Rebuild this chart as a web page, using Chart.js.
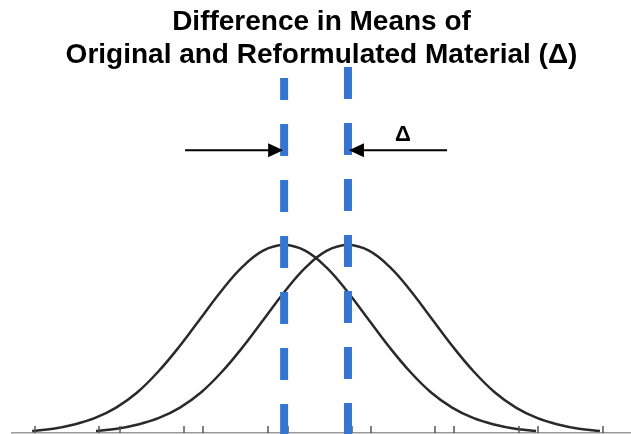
<!DOCTYPE html>
<html>
<head>
<meta charset="utf-8">
<title>Difference in Means</title>
<script src="https://cdn.jsdelivr.net/npm/chart.js@4.4.1/dist/chart.umd.min.js"></script>
<style>
  html, body { margin: 0; padding: 0; background: #fff; }
  #wrap { position: relative; width: 631px; height: 434px; }
</style>
</head>
<body>
<div id="wrap"><canvas id="meansChart"></canvas></div>
<script>
// x positions (in standard deviations) for the original material curve
const originalX = [-3, -2.75, -2.5, -2.25, -2, -1.75, -1.5, -1.25, -1, -0.75, -0.5, -0.25, 0,
  0.25, 0.5, 0.75, 1, 1.25, 1.5, 1.75, 2, 2.25, 2.5, 2.75, 3];
// x positions for the reformulated material curve (shifted by delta)
const reformX = [-2.24, -1.99, -1.74, -1.49, -1.24, -0.99, -0.74, -0.49, -0.24, 0.01, 0.26, 0.51, 0.76,
  1.01, 1.26, 1.51, 1.76, 2.01, 2.26, 2.51, 2.76, 3.01, 3.26, 3.51, 3.76];
// curve height at each point, same shape for both materials
const density = [0.004, 0.009, 0.018, 0.032, 0.054, 0.086, 0.130, 0.183, 0.242, 0.301, 0.352, 0.387, 0.399,
  0.387, 0.352, 0.301, 0.242, 0.183, 0.130, 0.086, 0.054, 0.032, 0.018, 0.009, 0.004];
// means of the two materials
const means = [0, 0.76];
// tick marks along the baseline
const originalTicks = [-2.97, -1.95, -0.97, 0.05, 1.03, 2.02, 3.02];
const reformTicks = [-2.2, -1.19, -0.19, 0.81, 1.8, 2.8, 3.8];
const titleLines = ["Difference in Means of", "Original and Reformulated Material (Δ)"];
const deltaLabel = "Δ";

const FONT = "'Liberation Sans', Arial, Helvetica, sans-serif";

function toPoints(xs, ys) {
  return xs.map((v, i) => ({ x: v, y: ys[i] }));
}

function arrow(ctx, fromX, toX, yPx) {
  const dir = Math.sign(toX - fromX);
  ctx.beginPath();
  ctx.moveTo(fromX, yPx);
  ctx.lineTo(toX - dir * 12, yPx);
  ctx.stroke();
  ctx.beginPath();
  ctx.moveTo(toX, yPx);
  ctx.lineTo(toX - dir * 15, yPx - 7);
  ctx.lineTo(toX - dir * 15, yPx + 7);
  ctx.closePath();
  ctx.fill();
}

// ticks, mean lines, arrows and the delta label
const markupPlugin = {
  id: "markup",
  afterDatasetsDraw(chart) {
    const { ctx, chartArea } = chart;
    const x = chart.scales.x;
    const y = chart.scales.y;
    ctx.save();

    ctx.strokeStyle = "#555";
    ctx.lineWidth = 1.5;
    originalTicks.concat(reformTicks).forEach((v) => {
      const px = Math.round(x.getPixelForValue(v));
      ctx.beginPath();
      ctx.moveTo(px, chartArea.bottom);
      ctx.lineTo(px, chartArea.bottom - 7);
      ctx.stroke();
    });

    // dashed lines at the means
    const lineTops = [0.7533, 0.7766];
    const dashPhase = [10, 0];
    ctx.strokeStyle = "#3574d0";
    ctx.lineWidth = 8;
    ctx.setLineDash([32, 24]);
    means.forEach((m, i) => {
      const px = x.getPixelForValue(m);
      ctx.lineDashOffset = dashPhase[i];
      ctx.beginPath();
      ctx.moveTo(px, y.getPixelForValue(lineTops[i]));
      ctx.lineTo(px, chartArea.bottom + 1);
      ctx.stroke();
    });
    ctx.setLineDash([]);

    // arrows pointing at each mean
    const arrowY = y.getPixelForValue(0.6);
    ctx.strokeStyle = "#000";
    ctx.fillStyle = "#000";
    ctx.lineWidth = 2;
    arrow(ctx, x.getPixelForValue(-1.18), x.getPixelForValue(means[0]) - 1, arrowY);
    arrow(ctx, x.getPixelForValue(1.94), x.getPixelForValue(means[1]) + 1, arrowY);

    ctx.font = "bold 22px " + FONT;
    ctx.textAlign = "center";
    ctx.textBaseline = "middle";
    ctx.fillText(deltaLabel, x.getPixelForValue(1.415), y.getPixelForValue(0.633));
    ctx.restore();
  }
};

const ctxMeans = document.getElementById("meansChart").getContext("2d");
new Chart(ctxMeans, {
  type: "line",
  data: {
    datasets: [
      {
        label: "Original",
        data: toPoints(originalX, density),
        borderColor: "#2a2a2a",
        borderWidth: 2.5,
        pointRadius: 0,
        tension: 0.4,
        fill: false,
      },
      {
        label: "Reformulated",
        data: toPoints(reformX, density),
        borderColor: "#2a2a2a",
        borderWidth: 2.5,
        pointRadius: 0,
        tension: 0.4,
        fill: false,
      },
    ],
  },
  options: {
    responsive: true,
    maintainAspectRatio: false,
    animation: false,
    layout: { padding: { left: 12, right: 0, top: 0, bottom: 1 } },
    plugins: {
      legend: { display: false },
      tooltip: { enabled: false },
      title: {
        display: true,
        text: titleLines,
        color: "#000",
        font: { family: FONT, size: 28, weight: "bold", lineHeight: 1.18 },
        padding: { top: 6, bottom: 0 },
      },
    },
    scales: {
      x: {
        type: "linear",
        min: -3.24,
        max: 4.13,
        ticks: { display: false },
        grid: { display: true, drawOnChartArea: false, drawTicks: false },
        border: { display: true, color: "#9a9a9a", width: 1.5 },
      },
      y: {
        display: false,
        min: 0,
        max: 0.766,
      },
    },
  },
  plugins: [markupPlugin],
});
</script>
</body>
</html>
